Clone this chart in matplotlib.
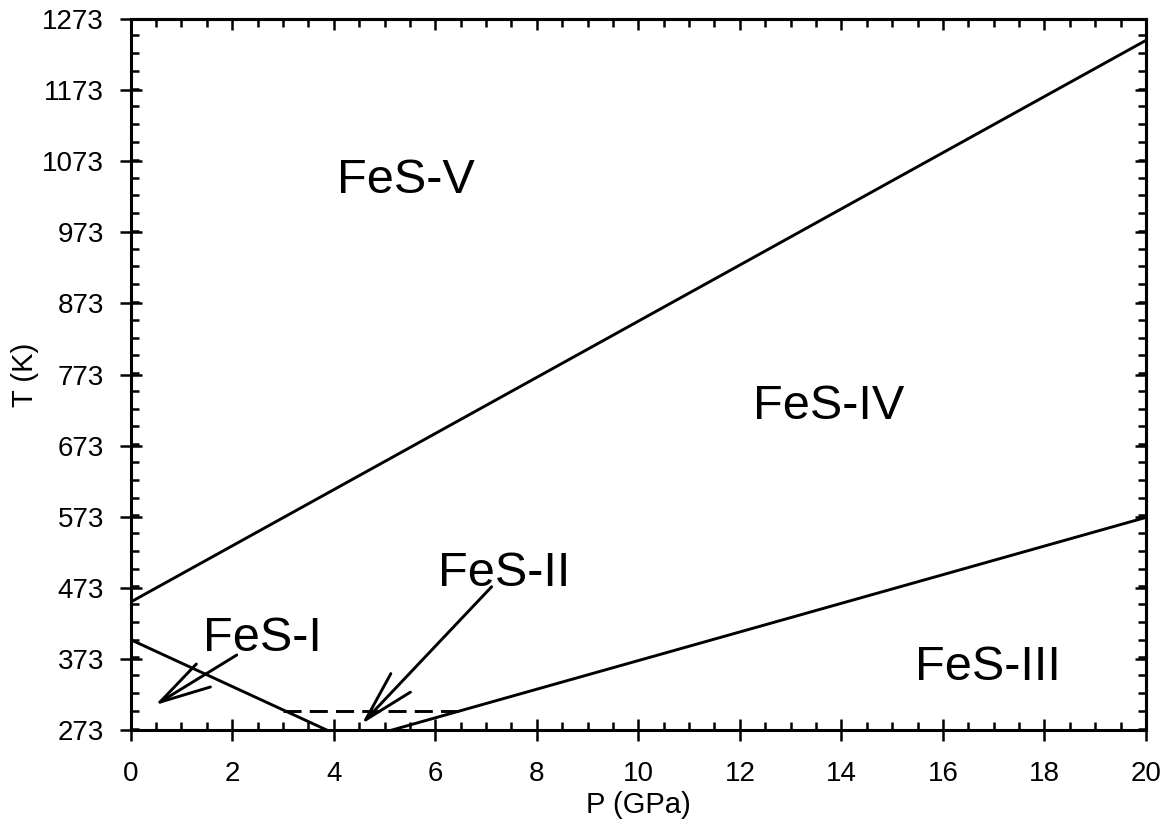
import matplotlib
matplotlib.use("Agg")
import matplotlib.pyplot as plt
from matplotlib.ticker import MultipleLocator, FixedLocator

plt.rcParams['font.family'] = ['Liberation Sans', 'DejaVu Sans']

# ---- data ----
p_V_IV = [0.0, 20.0]
t_V_IV = [453, 1243]
p_IV_III = [5.15, 20.0]
t_IV_III = [273, 572]
p_I_II = [0.0, 3.86]
t_I_II = [400, 273]
p_dash = [3.0, 6.6]
t_dash = [300, 300]

y_ticks = [273, 373, 473, 573, 673, 773, 873, 973, 1073, 1173, 1273]
x_ticks = [0, 2, 4, 6, 8, 10, 12, 14, 16, 18, 20]

labels = ["FeS-V", "FeS-IV", "FeS-I", "FeS-II", "FeS-III"]
label_p = [4.07, 12.26, 1.43, 6.05, 15.44]
label_t = [1028, 711, 384.5, 475.5, 343.3]

arrow_tail = [(2.09, 378.5), (7.11, 474.5)]
arrow_tip = [(0.48, 308.0), (4.55, 281.4)]

# ---- figure ----
fig = plt.figure(figsize=(11.74, 8.26), dpi=100)
ax = fig.add_axes([130.7/1174, 1-730/826, (1146-130.7)/1174, (730-19)/826])

lw = 2.1
ax.plot(p_V_IV, t_V_IV, color='black', lw=lw)
ax.plot(p_IV_III, t_IV_III, color='black', lw=lw)
ax.plot(p_I_II, t_I_II, color='black', lw=lw)
ax.plot(p_dash, t_dash, color='black', lw=lw, dashes=(6.2, 2.8))

for (tx, ty), (hx, hy) in zip(arrow_tail, arrow_tip):
    ax.annotate('', xy=(hx, hy), xytext=(tx, ty),
                arrowprops=dict(arrowstyle='->,head_length=3.67,head_width=0.97',
                                lw=lw, color='black', shrinkA=0, shrinkB=0,
                                mutation_scale=10))

for s, px, py in zip(labels, label_p, label_t):
    ax.text(px, py, s, fontsize=35, ha='left', va='baseline')

ax.set_xlim(0, 20)
ax.set_ylim(273, 1273)

ax.xaxis.set_major_locator(FixedLocator(x_ticks))
ax.yaxis.set_major_locator(FixedLocator(y_ticks))
ax.xaxis.set_minor_locator(MultipleLocator(0.5))
ax.yaxis.set_minor_locator(MultipleLocator(25))
ax.set_xticklabels([str(v) for v in x_ticks])
ax.set_yticklabels([str(v) for v in y_ticks])

for sp in ax.spines.values():
    sp.set_linewidth(2.2)

ax.tick_params(which='major', direction='inout', length=16.5, width=1.8,
               labelsize=20, top=False, right=False)
ax.tick_params(axis='x', which='major', pad=14)
ax.tick_params(axis='y', which='major', pad=11)
ax.tick_params(which='minor', direction='in', length=5.8, width=1.8,
               top=False, right=False)

# top and right: inward ticks only
secx = ax.secondary_xaxis('top')
secx.xaxis.set_major_locator(FixedLocator(x_ticks))
secx.xaxis.set_minor_locator(MultipleLocator(0.5))
secx.tick_params(which='major', direction='in', length=8, width=1.8, labeltop=False)
secx.tick_params(which='minor', direction='in', length=5.5, width=1.8)
secx.spines['top'].set_linewidth(2.2)
secy = ax.secondary_yaxis('right')
secy.yaxis.set_major_locator(FixedLocator(y_ticks))
secy.yaxis.set_minor_locator(MultipleLocator(25))
secy.tick_params(which='major', direction='in', length=8, width=1.8, labelright=False)
secy.tick_params(which='minor', direction='in', length=5.5, width=1.8)
secy.spines['right'].set_linewidth(2.2)

ax.set_xlabel("P (GPa)", fontsize=21)
ax.set_ylabel("T (K)", fontsize=21)
ax.xaxis.set_label_coords(0.5, -0.086)
ax.yaxis.set_label_coords(-0.090, 0.5)

fig.savefig("out.png", dpi=100)
